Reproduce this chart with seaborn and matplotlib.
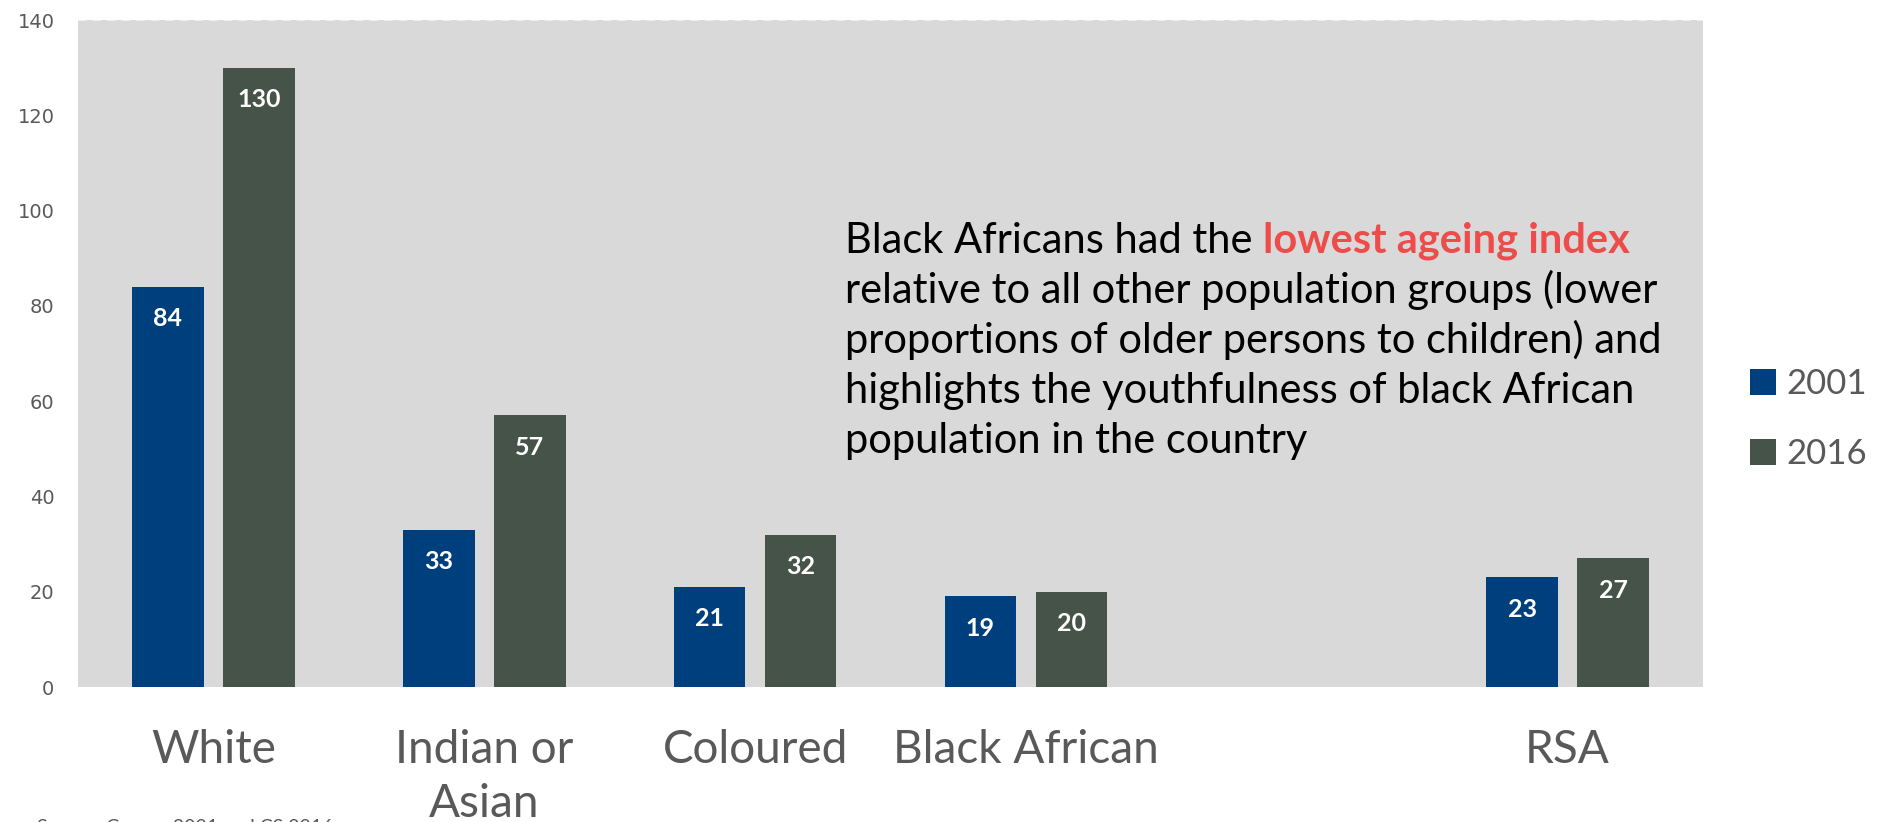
import matplotlib
matplotlib.use("Agg")
import matplotlib.pyplot as plt
import seaborn as sns
import pandas as pd

# Ageing index by population group, Census 2001 vs Community Survey 2016
groups = ["White", "Indian or\nAsian", "Coloured", "Black African", "RSA"]
axis_order = ["White", "Indian or\nAsian", "Coloured", "Black African", " ", "RSA"]
years = ["2001", "2016"]
index_2001 = [84, 33, 21, 19, 23]
index_2016 = [130, 57, 32, 20, 27]
y_ticks = [0, 20, 40, 60, 80, 100, 120, 140]

note_lead = "Black Africans had the "
note_highlight = "lowest ageing index"
note_lines = [
    "relative to all other population groups (lower",
    "proportions of older persons to children) and",
    "highlights the youthfulness of black African",
    "population in the country",
]
source_text = "Source: Census 2001 and CS 2016"

df = pd.DataFrame({
    "group": groups * 2,
    "year": [years[0]] * len(groups) + [years[1]] * len(groups),
    "value": index_2001 + index_2016,
})

sns.set_style("white")
plt.rcParams["font.family"] = ["Lato", "DejaVu Sans"]

W, H = 1880, 822
fig = plt.figure(figsize=(W / 100, H / 100), dpi=100)
ax = fig.add_axes([78 / W, 1 - 687 / H, (1703 - 78) / W, (687 - 20) / H])
ax.set_facecolor("#d9d9d9")

colors = ["#003f7d", "#465348"]
sns.barplot(data=df, x="group", y="value", hue="year", order=axis_order,
            hue_order=years, palette=colors, saturation=1, width=0.672,
            gap=0.211, errorbar=None, linewidth=0, ax=ax)

ax.set_ylim(0, 140)
ax.set_xlim(-0.5, len(axis_order) - 0.5)
ax.set_yticks(y_ticks)
ax.set_yticklabels([str(t) for t in y_ticks], fontfamily="DejaVu Sans",
                   fontsize=14, color="#595959")
ax.tick_params(axis="y", length=0, pad=17)
ax.tick_params(axis="x", length=0, pad=30, labelsize=33, labelcolor="#595959")
for lbl in ax.get_xticklabels():
    lbl.set_linespacing(1.37)
ax.set_xlabel("")
ax.set_ylabel("")
for s in ax.spines.values():
    s.set_visible(False)
ax.axhline(140, color="#eeeeee", lw=1.5, ls=(0, (4, 3)), zorder=0.5)

# value labels inside the top of each bar
for p in ax.patches:
    h = p.get_height()
    if h and h == h and p.get_width() > 0:
        ax.annotate(f"{h:.0f}", xy=(p.get_x() + p.get_width() / 2, h),
                    xytext=(0, -23), textcoords="offset points",
                    ha="center", va="center", color="white",
                    fontsize=18, fontweight="bold")

# legend on the right
handles, labels = ax.get_legend_handles_labels()
ax.legend(handles, labels, loc="center left",
          bbox_to_anchor=(1750 / W, 1 - 419 / H), bbox_transform=fig.transFigure,
          frameon=False, fontsize=25, labelcolor="#595959",
          handlelength=0.75, handleheight=0.75, handletextpad=0.3,
          labelspacing=1.1, borderpad=0, borderaxespad=0)

# explanatory note
x0 = 845 / W
base0 = 1 - 253 / H
step = 50 / H
fs_note = 30
t1 = fig.text(x0, base0, note_lead, fontsize=fs_note, color="black", va="baseline")
fig.add_artist(plt.Annotation(note_highlight, xy=(1, 0), xycoords=t1,
                              ha="left", va="bottom", fontsize=fs_note,
                              fontweight="bold", color="#ee4b4b"))
for i, line in enumerate(note_lines, start=1):
    fig.text(x0, base0 - i * step, line, fontsize=fs_note, color="black",
             va="baseline")

fig.text(37 / W, 1 - 819 / H, source_text, fontsize=14, color="#595959", va="top")

fig.savefig("out.png", dpi=100, facecolor="white")
